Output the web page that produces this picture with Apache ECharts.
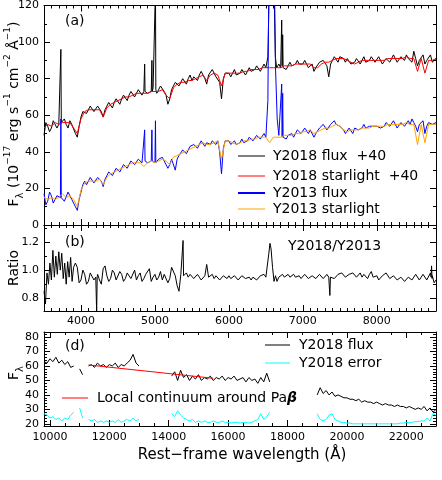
<!DOCTYPE html>
<html>
<head>
<meta charset="utf-8">
<script src="https://cdn.jsdelivr.net/npm/echarts@6/dist/echarts.min.js"></script>
<style>
  html, body { margin: 0; padding: 0; background: #fff; }
  #chart { width: 442px; height: 480px; }
</style>
</head>
<body>
<div id="chart"></div>
<script>
// ---- panel (a)/(b): optical, 3500..8800 A ----
var optStart = 3500;
var fluxStep = 25;   // observed spectra and ratio
var starStep = 50;   // starlight models

// Y2018 flux +40 (black), every 25 A
var flux2018 = [
  49, 56, 54, 51, 53, 57, 56, 53, 55, 55, 56, 58, 55, 53, 57, 55, 54, 50, 48, 54,
  59, 62, 63, 61, 62, 65, 64, 62, 63, 65, 64, 62, 59, 63, 65, 67, 66, 64, 67, 69,
  68, 66, 69, 71, 70, 68, 71, 73, 72, 70, 72, 74, 73, 71, 73, 74, 72, 71, 73, 75,
  74, 72, 73, 76, 75, 73, 71, 66, 69, 74, 76, 78, 78, 76, 77, 80, 79, 77, 80, 82,
  79, 81, 81, 79, 82, 84, 82, 80, 77, 82, 83, 85, 83, 81, 82, 78, 69, 80, 83, 84,
  83, 81, 83, 85, 82, 81, 83, 85, 84, 82, 84, 86, 84, 83, 85, 87, 86, 84, 86, 88,
  86, 87, 87, 87, 87, 87, 86, 88, 86, 87, 87, 85, 87, 89, 87, 86, 88, 90, 88, 87,
  88, 90, 88, 86, 87, 88, 84, 86, 86, 89, 88, 90, 89, 87, 81, 88, 90, 92, 91, 89,
  92, 93, 91, 89, 91, 90, 88, 87, 89, 91, 90, 88, 90, 92, 89, 88, 90, 92, 91, 89,
  90, 92, 90, 88, 89, 91, 91, 89, 91, 93, 91, 89, 90, 92, 92, 90, 93, 91, 91, 89,
  95, 91, 87, 90, 91, 93, 88, 90, 91, 93, 89, 90, 91
];
// Y2018 starlight +40 (red), every 50 A
var star2018 = [
  53, 55, 54, 56, 55, 56, 56, 56, 53, 50,
  58, 62, 63, 63, 63, 63, 59, 64, 66, 67,
  68, 69, 70, 70, 71, 72, 72, 72, 72, 73,
  73, 73, 74, 71, 69, 75, 77, 78, 78, 79,
  79, 80, 81, 82, 79, 82, 83, 82, 76, 83,
  83, 83, 83, 83, 84, 84, 85, 85, 85, 86,
  86, 86, 86, 86, 86, 87, 87, 87, 88, 88,
  88, 88, 88, 86, 86, 88, 89, 89, 90, 91,
  91, 91, 90, 89, 88, 89, 90, 90, 90, 90,
  90, 90, 90, 91, 91, 91, 91, 91, 92, 91,
  91, 84, 91, 83, 90, 90, 91
];
// Y2013 flux (blue), every 25 A
var flux2013 = [
  17, 11, 13, 18, 16, 12, 12, 16, 15, 15, 16, 13, 14, 18, 17, 14, 13, 10, 8, 14,
  18, 22, 24, 22, 23, 26, 25, 23, 24, 26, 26, 24, 21, 25, 27, 29, 28, 27, 29, 31,
  31, 29, 31, 33, 32, 31, 33, 35, 34, 33, 34, 36, 35, 34, 35, 34, 34, 33, 35, 36,
  34, 33, 36, 37, 37, 35, 34, 31, 33, 36, 37, 30, 36, 38, 39, 41, 40, 39, 41, 43,
  42, 44, 43, 42, 44, 46, 45, 43, 45, 46, 44, 46, 45, 44, 46, 40, 28, 42, 46, 47,
  46, 44, 45, 46, 44, 43, 45, 47, 45, 44, 46, 48, 47, 46, 47, 49, 48, 47, 48, 50,
  48, 48, 48, 48, 48, 48, 48, 49, 48, 48, 49, 47, 49, 50, 50, 48, 50, 52, 51, 50,
  51, 53, 52, 50, 52, 51, 48, 50, 51, 53, 53, 55, 54, 52, 53, 55, 55, 57, 55, 54,
  54, 53, 52, 50, 51, 53, 52, 50, 53, 54, 52, 51, 53, 55, 53, 52, 54, 55, 54, 53,
  54, 55, 53, 52, 54, 56, 55, 54, 55, 57, 55, 53, 54, 56, 56, 54, 55, 57, 55, 58,
  56, 54, 51, 55, 55, 57, 50, 54, 56, 57, 55, 54, 56
];
// Y2013 starlight (orange), every 50 A
var star2013 = [
  15, 14, 15, 14, 15, 17, 15, 16, 14, 10,
  19, 23, 24, 24, 24, 25, 22, 26, 28, 29,
  30, 31, 32, 33, 34, 34, 34, 32, 34, 35,
  34, 35, 36, 35, 33, 37, 38, 39, 40, 41,
  42, 43, 44, 45, 44, 44, 45, 46, 36, 46,
  46, 45, 44, 45, 46, 46, 47, 47, 48, 48,
  48, 45, 48, 48, 48, 49, 49, 49, 50, 50,
  51, 51, 52, 50, 51, 52, 53, 53, 54, 55,
  54, 52, 51, 52, 52, 52, 53, 53, 53, 54,
  54, 54, 54, 55, 55, 55, 55, 55, 56, 55,
  55, 44, 55, 45, 55, 55, 55
];
// emission lines, sampled finer: [wavelength, flux]
var lines2018 = [
  [[3722, 55], [3728, 96], [3734, 56]],
  [[4856, 73], [4861, 88], [4866, 73]],
  [[4954, 73], [4959, 90], [4964, 73]],
  [[5002, 74], [5007, 130], [5012, 74]],
  [[6510, 86], [6527, 92], [6545, 130], [6610, 130], [6628, 92], [6645, 86]],
  [[6708, 86], [6714, 112], [6720, 87], [6727, 104], [6733, 86]]
];
var lines2013 = [
  [[3722, 15], [3728, 58], [3734, 15]],
  [[4856, 35], [4861, 52], [4866, 35]],
  [[4954, 35], [4959, 52], [4964, 35]],
  [[5002, 34], [5007, 57], [5012, 34]],
  [[6500, 48], [6527, 68], [6540, 130], [6617, 130], [6630, 86], [6653, 58], [6675, 49]],
  [[6708, 48], [6714, 77], [6720, 48], [6727, 72], [6733, 48]]
];

// Y2018/Y2013 ratio, every 25 A
var ratio = [
  0.85, 0.80, 0.95, 1.00, 1.08, 1.10, 0.88, 1.00, 1.12, 1.00, 1.05, 1.00, 0.92, 1.05, 1.08, 0.93, 0.90, 1.05, 1.02, 0.91,
  0.93, 1.00, 0.97, 0.90, 0.92, 0.98, 0.99, 0.93, 0.95, 0.97, 0.93, 0.90, 1.01, 1.03, 0.96, 0.92, 0.94, 1.00, 0.98, 0.93,
  0.93, 0.99, 0.97, 0.92, 0.94, 0.98, 0.99, 0.94, 0.95, 1.00, 0.93, 0.96, 0.98, 0.92, 0.94, 0.97, 0.96, 1.01, 0.92, 0.95,
  0.97, 0.93, 0.95, 0.99, 0.93, 0.97, 0.98, 0.91, 0.94, 1.02, 1.01, 0.96, 0.89, 0.85, 0.97, 0.99, 0.96, 0.98, 0.95, 0.97,
  0.96, 0.94, 0.94, 0.97, 0.95, 0.93, 0.93, 0.96, 1.04, 0.95, 0.95, 0.97, 0.94, 0.96, 0.96, 0.93, 0.94, 0.96, 0.95, 0.94,
  0.96, 0.94, 0.94, 0.96, 0.95, 0.93, 0.94, 0.96, 0.95, 0.94, 0.94, 0.95, 0.93, 0.95, 0.95, 0.93, 0.94, 0.96, 0.96, 0.97,
  0.95, 0.97, 1.18, 1.10, 1.00, 0.95, 0.92, 0.95, 0.96, 0.97, 0.95, 0.96, 0.97, 0.95, 0.96, 0.97, 0.95, 0.96, 0.96, 0.94,
  0.95, 0.97, 0.96, 0.94, 0.94, 0.96, 0.96, 0.94, 0.95, 0.97, 0.96, 0.94, 0.95, 0.97, 0.95, 0.95, 0.96, 0.94, 0.95, 0.97,
  0.96, 0.98, 0.97, 0.95, 0.95, 0.97, 0.96, 0.98, 0.97, 0.95, 0.96, 0.98, 0.95, 0.97, 0.96, 0.94, 0.97, 0.99, 0.95, 0.96,
  0.96, 0.93, 0.94, 0.96, 0.95, 0.98, 0.97, 0.94, 0.94, 0.96, 0.95, 0.93, 0.93, 0.95, 0.94, 0.92, 0.92, 0.95, 0.95, 0.93,
  0.93, 0.97, 0.96, 0.93, 0.94, 0.97, 0.98, 0.93, 0.92, 0.98, 0.96, 0.91, 0.93
];
var ratioDetail = [
  [[3500, 0.85], [3520, 0.76], [3540, 0.98], [3560, 0.90], [3580, 1.05], [3600, 0.93],
   [3620, 1.14], [3640, 0.95], [3660, 1.10], [3680, 0.97], [3700, 1.13], [3720, 1.00],
   [3740, 1.12], [3760, 0.94], [3780, 1.05], [3800, 0.90], [3820, 1.06], [3840, 0.95],
   [3860, 1.09], [3880, 0.92], [3900, 1.02]],
  [[4205, 0.95], [4212, 0.70], [4219, 0.95]],
  [[5373, 0.96], [5380, 1.21], [5387, 0.96]],
  [[6520, 0.96], [6540, 1.12], [6555, 1.19], [6570, 1.15], [6590, 1.02], [6610, 0.92], [6630, 0.96]],
  [[7357, 0.95], [7365, 0.82], [7373, 0.95]],
  [[8733, 0.95], [8740, 1.03], [8747, 0.94]]
];

// ---- panel (d): near-IR, 9800..23000 A every 100 A (null = gap) ----
var irStart = 9800, irStep = 100;
var irFlux = [
  63, 62,
  65, 63, 66, 62, 64, 61, 63, 59, 60, null,
  58, 54, null, 60, 61, 59, 62, 60, 61, 59,
  61, 60, 62, 59, 61, 60, 62, 64, 68, 62,
  60, null, null, null, null, null, null, null, null, null,
  null, 53, 56, 50, 57, 52, 54, 50, 53, 51,
  54, 50, 52, 51, 53, 50, 52, 51, 53, 50,
  52, 51, 53, 50, 51, 52, 49, 52, 50, 51,
  48, 52, 49, 55, 49, null, null, null, null, null,
  null, null, null, null, null, null, null, null, null, null,
  40, 45, 41, 43, 40, 42, 39, 40, 39, 38,
  38, 37, 37, 36, 37, 35, 36, 35, 35, 34,
  35, 34, 33, 34, 33, 33, 32, 33, 32, 32,
  31, 32, 31, 30, 31, 30, 32, 29, 31, 28,
  30
];
var irErr = [
  27, 26,
  24, 25, 23, 24, 22, 24, 23, 26, 28, null,
  31, 24, null, 23, 22, 23, 21, 22, 21, 22,
  21, 22, 21, 23, 21, 22, 23, 22, 24, 22,
  23, null, null, null, null, null, null, null, null, null,
  null, 27, 25, 29, 26, 24, 23, 22, 23, 21,
  22, 21, 22, 21, 21, 22, 21, 21, 22, 21,
  21, 20.5, 21, 21, 20.5, 21, 21, 20.5, 21, 22,
  23, 27, 23, 25, 28, null, null, null, null, null,
  null, null, null, null, null, null, null, null, null, null,
  27, 23, 22, 23, 26, 27, 23, 22, 21, 21,
  20.5, 20.5, 20, 20, 20, 20, 20, 20, 20, 20,
  20, 20, 20, 20, 20, 20, 20, 20, 20.5, 20.5,
  21, 21, 21, 21.5, 21.5, 22, 22, 24, 22, 27,
  26
];
// local continuum around Pa-beta: [wavelength, flux]
var paBetaCont = [[11300, 60.7], [15500, 51.5]];

// tick labels
var optTicks = [4000, 5000, 6000, 7000, 8000];
var fluxTicks = [0, 20, 40, 60, 80, 100, 120];
var ratioTicks = [0.8, 1.0, 1.2];
var irTicks = [10000, 12000, 14000, 16000, 18000, 20000, 22000];
var irFluxTicks = [20, 30, 40, 50, 60, 70, 80];

var FONT = 'DejaVu Sans';

// grid values + finer sampled pieces, sorted by wavelength
function merge(start, step, vals, pieces) {
  var pts = [];
  vals.forEach(function (v, i) {
    var x = start + i * step;
    var covered = pieces.some(function (p) { return x >= p[0][0] && x <= p[p.length - 1][0]; });
    if (!covered) pts.push([x, v == null ? '-' : v]);
  });
  pieces.forEach(function (p) { pts = pts.concat(p); });
  pts.sort(function (a, b) { return a[0] - b[0]; });
  return pts;
}

function steps(from, to, step) {
  var a = [];
  for (var v = from; v <= to + 1e-9; v += step) a.push(+v.toFixed(3));
  return a;
}

// 4 axes per grid and dimension: main/minor on both sides
function axes(dim, grid, min, max, major, minor, fmt, showLabel, margin) {
  var sides = dim === 'x' ? ['bottom', 'top'] : ['left', 'right'];
  var out = [];
  sides.forEach(function (pos, k) {
    out.push({
      type: 'value', gridIndex: grid, position: pos, min: min, max: max,
      axisLine: { show: true, onZero: false, lineStyle: { color: '#000', width: 1 } },
      axisTick: { show: true, inside: true, length: 6, customValues: major, lineStyle: { color: '#000' } },
      axisLabel: {
        show: k === 0 && showLabel, customValues: major, formatter: fmt,
        color: '#000', fontFamily: FONT, fontSize: 11, margin: margin
      },
      splitLine: { show: false }
    });
    out.push({
      type: 'value', gridIndex: grid, position: pos, min: min, max: max,
      axisLine: { show: false, onZero: false },
      axisTick: { show: true, inside: true, length: 3, customValues: minor, lineStyle: { color: '#000' } },
      axisLabel: { show: false },
      splitLine: { show: false }
    });
  });
  return out;
}

function line(g, data, color) {
  return {
    type: 'line', xAxisIndex: 4 * g, yAxisIndex: 4 * g, data: data,
    symbol: 'none', showSymbol: false, silent: true, animation: false,
    connectNulls: false, lineStyle: { color: color, width: 1 }, itemStyle: { color: color }
  };
}

function txt(x, y, text, size, align, extra) {
  var el = {
    type: 'text', x: x, y: y, silent: true,
    style: { text: text, fill: '#000', font: size + 'px "' + FONT + '"', align: align || 'left', verticalAlign: 'middle' }
  };
  if (extra) Object.keys(extra).forEach(function (k) { el.style[k] = extra[k]; });
  return el;
}

function seg(x1, x2, y, color, w) {
  return { type: 'line', silent: true, shape: { x1: x1, y1: y, x2: x2, y2: y }, style: { stroke: color, lineWidth: w || 1 } };
}

var num = function (v) { return String(v); };
var oneDec = function (v) { return v.toFixed(1); };

var xAxis = []
  .concat(axes('x', 0, 3500, 8800, optTicks, steps(3600, 8700, 100), num, false, 5))
  .concat(axes('x', 1, 3500, 8800, optTicks, steps(3600, 8700, 100), num, true, 5))
  .concat(axes('x', 2, 9800, 23000, irTicks, steps(10000, 23000, 500), num, true, 6));
var yAxis = []
  .concat(axes('y', 0, 0, 120, fluxTicks, steps(10, 110, 10), num, true, 5))
  .concat(axes('y', 1, 0.71, 1.32, ratioTicks, [0.9, 1.1, 1.3], oneDec, true, 5))
  .concat(axes('y', 2, 18.5, 83.5, irFluxTicks, steps(20, 82, 2), num, true, 5));

var ylab = {
  b: { fontSize: 14, fontFamily: FONT, lineHeight: 22, verticalAlign: 'middle' },
  sub: { fontSize: 10, fontFamily: FONT, verticalAlign: 'bottom', lineHeight: 22 },
  sup: { fontSize: 9, fontFamily: FONT, verticalAlign: 'top', lineHeight: 22 }
};

var option = {
  animation: false,
  backgroundColor: '#fff',
  grid: [
    { left: 44, top: 5, width: 392, height: 220 },
    { left: 44, top: 225, width: 392, height: 86 },
    { left: 44, top: 332, width: 392, height: 94 }
  ],
  xAxis: xAxis,
  yAxis: yAxis,
  series: [
    line(0, merge(optStart, fluxStep, flux2018, lines2018), '#000000'),
    line(0, merge(optStart, starStep, star2018, []), '#ff0000'),
    line(0, merge(optStart, fluxStep, flux2013, lines2013), '#0000ff'),
    line(0, merge(optStart, starStep, star2013, []), '#ffa500'),
    line(1, merge(optStart, fluxStep, ratio, ratioDetail), '#000000'),
    line(2, merge(irStart, irStep, irFlux, []), '#000000'),
    line(2, merge(irStart, irStep, irErr, []), '#00ffff'),
    line(2, paBetaCont, '#ff0000')
  ],
  graphic: [
    txt(65, 21, '(a)', 14),
    txt(65, 242, '(b)', 14),
    txt(65, 346, '(d)', 14),
    txt(288, 246, 'Y2018/Y2013', 14),
    // panel (a) legend
    seg(238, 265, 156, '#000000'), txt(273, 156, 'Y2018 flux  +40', 14),
    seg(238, 265, 176, '#ff0000'), txt(273, 176, 'Y2018 starlight  +40', 14),
    seg(238, 265, 193, '#0000ff', 2), txt(273, 193, 'Y2013 flux', 14),
    seg(238, 265, 209, '#ffa500'), txt(273, 209, 'Y2013 starlight', 14),
    // panel (d) legend
    seg(265, 290, 345, '#000000'), txt(299, 345, 'Y2018 flux', 14),
    seg(265, 290, 363, '#00ffff'), txt(299, 363, 'Y2018 error', 14),
    seg(62, 88, 398, '#ff0000'),
    txt(97, 398, '{n|Local continuum around Pa}{g|β}', 14, 'left', {
      rich: {
        n: { fontSize: 14, fontFamily: FONT },
        g: { fontSize: 14, fontFamily: FONT, fontStyle: 'italic', fontWeight: 'bold' }
      }
    }),
    // axis titles
    {
      type: 'text', x: 14, y: 114, rotation: Math.PI / 2, silent: true,
      style: {
        text: '{b|F}{sub|λ}{b| (10}{sup|−17}{b| erg s}{sup|−1}{b| cm}{sup|−2}{b| Å}{sup|−1}{b|)}',
        rich: ylab, fill: '#000', align: 'center', verticalAlign: 'middle'
      }
    },
    {
      type: 'text', x: 14, y: 268, rotation: Math.PI / 2, silent: true,
      style: { text: 'Ratio', fill: '#000', font: '14px "' + FONT + '"', align: 'center', verticalAlign: 'middle' }
    },
    {
      type: 'text', x: 14, y: 373, rotation: Math.PI / 2, silent: true,
      style: { text: '{b|F}{sub|λ}', rich: ylab, fill: '#000', align: 'center', verticalAlign: 'middle' }
    },
    txt(242, 455, 'Rest\u2212frame wavelength (Å)', 15, 'center')
  ]
};

var chart = echarts.init(document.getElementById('chart'), null, { renderer: 'canvas' });
chart.setOption(option);
</script>
</body>
</html>
